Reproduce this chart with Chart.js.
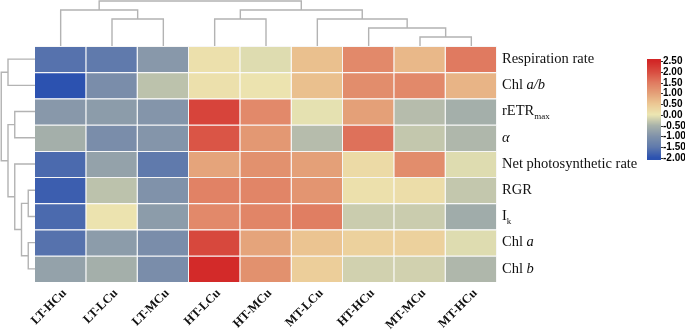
<!DOCTYPE html>
<html>
<head>
<meta charset="utf-8">
<script src="https://cdn.jsdelivr.net/npm/chart.js@4/dist/chart.umd.min.js"></script>
<style>
  html, body { margin: 0; padding: 0; background: #fff; }
  #wrap { width: 685px; height: 331px; position: relative; }
</style>
</head>
<body>
<div id="wrap"><canvas id="heat"></canvas></div>
<script>
// columns (treatments), in dendrogram order
const treatments = ['LT-HCu', 'LT-LCu', 'LT-MCu', 'HT-LCu', 'HT-MCu', 'MT-LCu', 'HT-HCu', 'MT-MCu', 'MT-HCu'];
// rows top to bottom; *x* = italic, _{x} = subscript
const traits = ['Respiration rate', 'Chl *a/b*', 'rETR_{max}', '*α*', 'Net photosynthetic rate', 'RGR', 'I_{k}', 'Chl *a*', 'Chl *b*'];

// z-scores, one array per row
const respiration = [-1.6, -1.5, -0.9, 0.1, -0.1, 0.6, 1.3, 0.7, 1.5];
const chlAB       = [-2.0, -1.1, -0.35, 0.1, 0.05, 0.6, 1.25, 1.3, 0.75];
const rETRmax     = [-0.9, -0.85, -0.95, 2.1, 1.3, -0.05, 1.0, -0.4, -0.55];
const alpha       = [-0.55, -1.1, -0.95, 1.9, 1.1, -0.4, 1.6, -0.3, -0.45];
const netPhoto    = [-1.7, -0.75, -1.5, 0.95, 1.2, 1.0, 0.2, 1.25, -0.1];
const rgr         = [-1.85, -0.35, -1.0, 1.4, 1.35, 1.15, 0.1, 0.15, -0.3];
const ik          = [-1.7, 0.05, -0.85, 1.3, 1.35, 1.45, -0.25, -0.25, -0.6];
const chlA        = [-1.6, -0.85, -1.1, 2.05, 0.95, 0.55, 0.35, 0.35, -0.1];
const chlB        = [-0.75, -0.55, -1.1, 2.45, 1.2, 0.4, -0.2, -0.2, -0.45];
const rowValues = [respiration, chlAB, rETRmax, alpha, netPhoto, rgr, ik, chlA, chlB];

// colour key tick labels
const keyTicks = [2.5, 2.0, 1.5, 1.0, 0.5, 0.0, -0.5, -1.0, -1.5, -2.0];

// clustering trees: [childA, childB, level]; new nodes numbered after the leaves
const colMerges = [[1, 2, 3], [0, 9, 4], [3, 4, 3], [7, 8, 1], [6, 12, 2], [5, 13, 3], [11, 14, 4], [10, 15, 5]];
const rowMerges = [[5, 6, 1], [7, 8, 1], [9, 10, 2], [4, 11, 3], [2, 3, 3], [13, 12, 4], [0, 1, 4], [15, 14, 5]];

// colour scale stops
const stops = [
  [-2.0, [44, 82, 176]], [-1.5, [96, 122, 172]], [-1.0, [128, 146, 170]], [-0.5, [168, 178, 170]],
  [0.0, [236, 230, 178]], [0.5, [236, 200, 148]], [1.0, [228, 160, 120]], [1.5, [224, 122, 96]],
  [2.0, [216, 76, 64]], [2.5, [210, 38, 38]]
];
function colorFor(v) {
  if (v <= stops[0][0]) return 'rgb(' + stops[0][1].join(',') + ')';
  for (let i = 1; i < stops.length; i++) {
    if (v <= stops[i][0]) {
      const [v0, c0] = stops[i - 1], [v1, c1] = stops[i];
      const t = (v - v0) / (v1 - v0);
      return 'rgb(' + c0.map((c, k) => Math.round(c + (c1[k] - c) * t)).join(',') + ')';
    }
  }
  return 'rgb(' + stops[stops.length - 1][1].join(',') + ')';
}

const nRows = traits.length;
// stacked bars: bottom row first
const datasets = rowValues.slice().reverse().map((vals, i) => ({
  label: traits[nRows - 1 - i],
  data: vals.map(() => 1),
  backgroundColor: vals.map(colorFor),
  borderColor: 'rgba(245,245,245,0.9)',
  borderWidth: { top: 1, right: 1, bottom: 0, left: 0 },
  borderSkipped: false,
  inflateAmount: 0,
  barPercentage: 1,
  categoryPercentage: 1
}));

function drawTree(ctx, merges, nLeaves, leafPos, depth, pt) {
  const pos = [], d = [];
  for (let i = 0; i < nLeaves; i++) { pos[i] = leafPos(i); d[i] = depth(0); }
  merges.forEach(([a, b, lvl]) => {
    const h = depth(lvl);
    ctx.beginPath();
    ctx.moveTo(...pt(pos[a], d[a]));
    ctx.lineTo(...pt(pos[a], h));
    ctx.lineTo(...pt(pos[b], h));
    ctx.lineTo(...pt(pos[b], d[b]));
    ctx.stroke();
    pos.push((pos[a] + pos[b]) / 2);
    d.push(h);
  });
}

function drawRich(ctx, text, x, y) {
  const parts = text.split(/(\*[^*]+\*|_\{[^}]+\})/).filter(s => s);
  parts.forEach(p => {
    let font = '14.5px "Liberation Serif"', dy = 0, t = p;
    if (p.startsWith('*')) { font = 'italic 14.5px "Liberation Serif"'; t = p.slice(1, -1); }
    else if (p.startsWith('_{')) { font = '9px "Liberation Serif"'; t = p.slice(2, -1); dy = 5; }
    ctx.font = font;
    ctx.fillText(t, x, y + dy);
    x += ctx.measureText(t).width;
  });
}

const extrasPlugin = {
  id: 'extras',
  afterDraw(chart) {
    const { ctx, chartArea, scales: { x, y } } = chart;
    ctx.save();
    // dendrograms
    ctx.strokeStyle = '#b3b3b3';
    ctx.lineWidth = 1.4;
    drawTree(ctx, colMerges, treatments.length, i => x.getPixelForValue(i),
      lvl => chartArea.top - lvl * 9, (a, d) => [a, d]);
    drawTree(ctx, rowMerges, nRows, i => y.getPixelForValue(nRows - i - 0.5),
      lvl => chartArea.left - lvl * 6.75, (a, d) => [d, a]);

    // row labels
    ctx.fillStyle = '#111';
    ctx.textBaseline = 'middle';
    ctx.textAlign = 'left';
    traits.forEach((t, i) => drawRich(ctx, t, chartArea.right + 5, y.getPixelForValue(nRows - i - 0.5)));

    // colour key
    const kx = 647, kw = 14, kTop = 59, kBot = 160;
    const vTop = 2.5, yTop = 61, pxPerUnit = 21.5;
    const vAt = py => vTop - (py - yTop) / pxPerUnit;
    for (let py = kTop; py < kBot; py++) {
      ctx.fillStyle = colorFor(vAt(py + 0.5));
      ctx.fillRect(kx, py, kw, 1);
    }
    ctx.strokeStyle = '#333';
    ctx.lineWidth = 1;
    ctx.fillStyle = '#000';
    ctx.font = 'bold 10px "Liberation Sans"';
    keyTicks.forEach(v => {
      const py = Math.round(yTop + (vTop - v) * pxPerUnit) + 0.5;
      ctx.beginPath();
      ctx.moveTo(kx + kw, py);
      ctx.lineTo(kx + kw + 2, py);
      ctx.stroke();
      ctx.fillText(v.toFixed(2), kx + kw + 2, py);
    });
    ctx.restore();
  }
};

new Chart(document.getElementById('heat'), {
  type: 'bar',
  data: { labels: treatments, datasets },
  options: {
    responsive: true,
    maintainAspectRatio: false,
    animation: false,
    layout: { padding: { left: 35, top: 46, right: 188, bottom: 0 } },
    plugins: { legend: { display: false }, tooltip: { enabled: false } },
    scales: {
      x: {
        stacked: true,
        grid: { display: false },
        border: { display: false },
        ticks: {
          color: '#111',
          font: { family: '"Liberation Serif"', size: 12.5, weight: 'bold' },
          maxRotation: 45,
          minRotation: 45,
          autoSkip: false,
          padding: -4,
          labelOffset: 4
        },
        afterFit(scale) { scale.height = 49; }
      },
      y: { stacked: true, min: 0, max: nRows, display: false }
    }
  },
  plugins: [extrasPlugin]
});
</script>
</body>
</html>
